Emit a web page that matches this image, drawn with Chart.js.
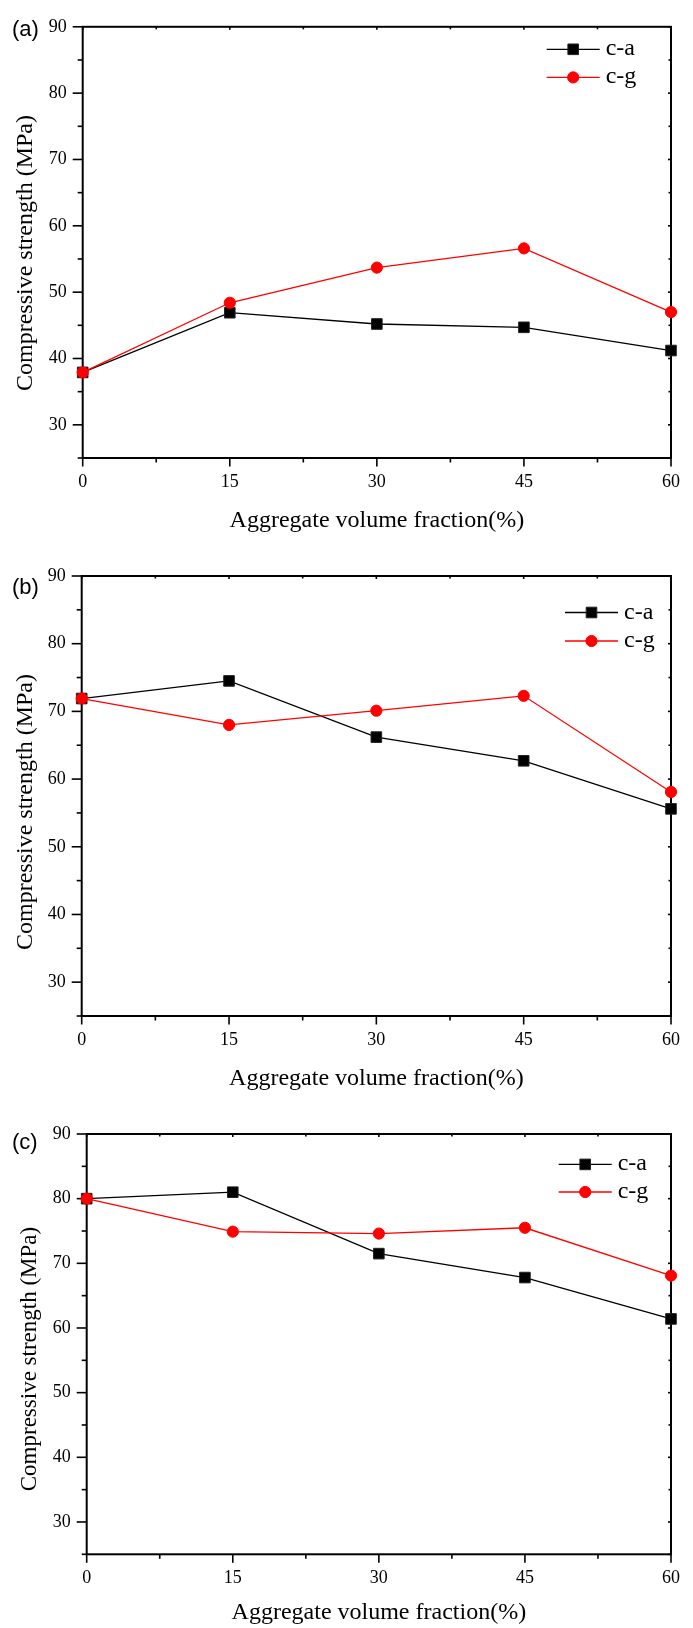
<!DOCTYPE html>
<html>
<head>
<meta charset="utf-8">
<script src="https://cdn.jsdelivr.net/npm/chart.js@4.4.0/dist/chart.umd.min.js"></script>
<style>
  html, body { margin: 0; padding: 0; background: #fff; }
  #wrap { position: relative; width: 693px; height: 1628px; }
  canvas { position: absolute; left: 0; }
</style>
</head>
<body>
<div id="wrap">
  <canvas id="painelA" width="693" height="545" style="top:0px"></canvas>
  <canvas id="painelB" width="693" height="550" style="top:545px"></canvas>
  <canvas id="painelC" width="693" height="533" style="top:1095px"></canvas>
</div>
<script>
// fração volumétrica de agregado (%)
const fracoes = [0, 15, 30, 45, 60];
const xTicks = [0, 15, 30, 45, 60];
const xMinor = [7.5, 22.5, 37.5, 52.5];
const yTicks = [30, 40, 50, 60, 70, 80, 90];
const yMinor = [25, 35, 45, 55, 65, 75, 85];

// resistência à compressão (MPa)
const caA = [37.9, 46.9, 45.2, 44.7, 41.2];
const cgA = [37.9, 48.4, 53.7, 56.6, 47.0];
const caB = [71.9, 74.5, 66.2, 62.7, 55.6];
const cgB = [71.9, 68.0, 70.1, 72.3, 58.1];
const caC = [80.0, 81.0, 71.5, 67.8, 61.4];
const cgC = [80.0, 74.9, 74.6, 75.5, 68.1];

const nomes = ["c-a", "c-g"];
const tituloX = "Aggregate volume fraction(%)";
const tituloY = "Compressive strength (MPa)";

const SERIF = "'Liberation Serif', 'Times New Roman', serif";

// === moldura, ticks menores, título Y, rótulo do painel e legenda ===
const molduraPlugin = {
  id: "moldura",
  beforeDatasetsDraw(chart) {
    const { ctx, chartArea: a, scales: { x, y } } = chart;
    const traco = (x1, y1, x2, y2) => {
      ctx.beginPath(); ctx.moveTo(x1, y1); ctx.lineTo(x2, y2); ctx.stroke();
    };
    ctx.save();
    ctx.strokeStyle = "#000";
    ctx.lineWidth = 1.6;
    xTicks.forEach((v) => {
      const px = x.getPixelForValue(v);
      traco(px, a.bottom, px, a.bottom + 8.5);
      traco(px, a.top, px, a.top + 3);
    });
    xMinor.forEach((v) => {
      const px = x.getPixelForValue(v);
      traco(px, a.bottom, px, a.bottom + 4.5);
      traco(px, a.top, px, a.top + 2.5);
    });
    yTicks.forEach((v) => {
      const py = y.getPixelForValue(v);
      traco(a.left - 10, py, a.left, py);
      traco(a.right - 3, py, a.right, py);
    });
    yMinor.forEach((v) => {
      const py = y.getPixelForValue(v);
      traco(a.left - 5, py, a.left, py);
      traco(a.right - 2.5, py, a.right, py);
    });
    ctx.lineWidth = 2;
    ctx.strokeRect(a.left, a.top, a.right - a.left, a.bottom - a.top);
    ctx.restore();
  },
  afterDraw(chart, args, opts) {
    const { ctx } = chart;
    ctx.save();
    ctx.fillStyle = "#000";

    // título do eixo Y (girado)
    ctx.save();
    ctx.translate(opts.yTitX, opts.yTitY);
    ctx.rotate(-Math.PI / 2);
    ctx.font = opts.yTitSize + "px " + SERIF;
    ctx.textAlign = "center";
    ctx.textBaseline = "alphabetic";
    ctx.fillText(tituloY, 0, 0);
    ctx.restore();

    // rótulo (a), (b), (c)
    ctx.font = "22px 'Liberation Sans', Arial, sans-serif";
    ctx.textAlign = "left";
    ctx.textBaseline = "middle";
    ctx.fillText(opts.rotulo, 12, opts.rotuloY);

    // legenda
    chart.data.datasets.forEach((ds, i) => {
      const yy = opts.legY[i];
      const x0 = opts.legX;
      ctx.strokeStyle = ds.borderColor;
      ctx.lineWidth = 1.3;
      ctx.beginPath(); ctx.moveTo(x0, yy); ctx.lineTo(x0 + 53, yy); ctx.stroke();
      ctx.fillStyle = ds.pointBackgroundColor;
      ctx.strokeStyle = ds.pointBorderColor;
      ctx.lineWidth = 1;
      Chart.helpers.drawPoint(ctx, {
        pointStyle: ds.pointStyle, radius: ds.pointRadius, rotation: 0, borderWidth: 1
      }, x0 + 26.5, yy);
      ctx.fillStyle = "#000";
      ctx.font = "24px " + SERIF;
      ctx.textAlign = "left";
      ctx.textBaseline = "alphabetic";
      ctx.fillText(ds.label, x0 + 59, yy + 6);
    });
    ctx.restore();
  }
};

function criarPainel(canvasId, serieA, serieG, cfg) {
  const canvas = document.getElementById(canvasId);
  const H = canvas.height;
  const area = cfg.area;
  new Chart(canvas.getContext("2d"), {
    type: "line",
    data: {
      datasets: [
        {
          label: nomes[0],
          data: fracoes.map((f, i) => ({ x: f, y: serieA[i] })),
          borderColor: "#000",
          borderWidth: 1.3,
          pointStyle: "rect",
          pointRadius: 7.5,
          pointBorderWidth: 1,
          pointBackgroundColor: "#000",
          pointBorderColor: "#222",
          clip: false,
          order: 1,
        },
        {
          label: nomes[1],
          data: fracoes.map((f, i) => ({ x: f, y: serieG[i] })),
          borderColor: "#ff0000",
          borderWidth: 1.3,
          pointStyle: "circle",
          pointRadius: 5.6,
          pointBorderWidth: 1,
          pointBackgroundColor: "#ff0000",
          pointBorderColor: "#ff0000",
          clip: false,
          order: 0,
        },
      ],
    },
    options: {
      responsive: false,
      maintainAspectRatio: false,
      animation: false,
      layout: { padding: { left: 0, top: area.top, right: 693 - area.right, bottom: 0 } },
      plugins: {
        legend: { display: false },
        tooltip: { enabled: false },
        moldura: cfg.moldura,
      },
      scales: {
        x: {
          type: "linear",
          min: 0,
          max: 60,
          afterBuildTicks: (s) => { s.ticks = xTicks.map((v) => ({ value: v })); },
          afterFit: (s) => { s.height = H - area.bottom; },
          grid: { display: false, drawTicks: false },
          border: { display: false },
          ticks: {
            color: "#000",
            padding: 13,
            maxRotation: 0,
            autoSkip: false,
            font: { family: SERIF, size: 18 },
          },
          title: {
            display: true,
            text: tituloX,
            color: "#000",
            font: { family: SERIF, size: 24, lineHeight: 1 },
            padding: { top: 0, bottom: cfg.xTitPad },
          },
        },
        y: {
          type: "linear",
          min: 25,
          max: 90,
          afterBuildTicks: (s) => { s.ticks = yTicks.map((v) => ({ value: v })); },
          afterFit: (s) => { s.width = area.left; },
          grid: { display: false, drawTicks: false },
          border: { display: false },
          ticks: {
            color: "#000",
            padding: 16,
            font: { family: SERIF, size: 18 },
          },
        },
      },
    },
    plugins: [molduraPlugin],
  });
}

criarPainel("painelA", caA, cgA, {
  area: { left: 82.7, top: 17.5, right: 679.3, bottom: 458 },
  xTitPad: 12,
  moldura: { rotulo: "(a)", rotuloY: 30, yTitX: 32, yTitY: 253, yTitSize: 24, legX: 546.7, legY: [49.3, 77.4] },
});

criarPainel("painelB", caB, cgB, {
  area: { left: 81.7, top: 31, right: 679.3, bottom: 471 },
  xTitPad: 4,
  moldura: { rotulo: "(b)", rotuloY: 43, yTitX: 32, yTitY: 267, yTitSize: 24, legX: 565, legY: [67.5, 96] },
});

criarPainel("painelC", caC, cgC, {
  area: { left: 86.7, top: 39, right: 678.7, bottom: 459.3 },
  xTitPad: 3.5,
  moldura: { rotulo: "(c)", rotuloY: 48, yTitX: 36, yTitY: 264, yTitSize: 23, legX: 558.7, legY: [69.4, 97] },
});
</script>
</body>
</html>
